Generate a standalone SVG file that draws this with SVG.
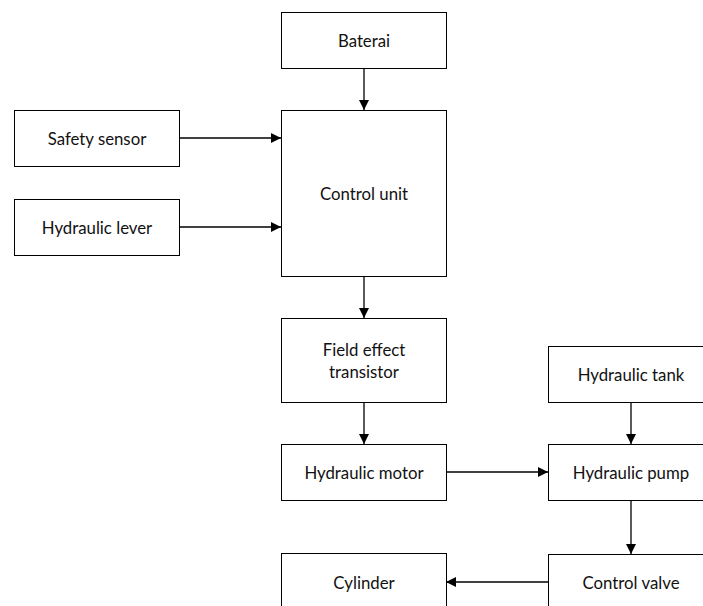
<svg xmlns="http://www.w3.org/2000/svg" width="703" height="606" viewBox="0 0 703 606">
  <defs>
    <marker id="arrow" viewBox="0 0 10 10" refX="10" refY="5" markerWidth="10" markerHeight="10" markerUnits="userSpaceOnUse" orient="auto">
      <path d="M0,0 L10,5 L0,10 Z" fill="#000"/>
    </marker>
    <style>
      .box { fill: #fff; stroke: #000; stroke-width: 1; }
      .label { font-family: Lato, "Liberation Sans", sans-serif; font-size: 16.8px; fill: #111; text-anchor: middle; dominant-baseline: central; }
      .link { stroke: #000; stroke-width: 1.3; fill: none; marker-end: url(#arrow); }
    </style>
  </defs>
  <rect width="703" height="606" fill="#fff"/>

  <g id="connectors">
    <line class="link" x1="364" y1="68" x2="364" y2="110"/>
    <line class="link" x1="180" y1="138" x2="281" y2="138"/>
    <line class="link" x1="180" y1="227" x2="281" y2="227"/>
    <line class="link" x1="364" y1="276" x2="364" y2="318"/>
    <line class="link" x1="364" y1="402" x2="364" y2="444"/>
    <line class="link" x1="446" y1="472" x2="548" y2="472"/>
    <line class="link" x1="631" y1="402" x2="631" y2="444"/>
    <line class="link" x1="631" y1="500" x2="631" y2="554"/>
    <line class="link" x1="548" y1="582" x2="446" y2="582"/>
  </g>

  <g id="baterai">
    <rect class="box" x="281.5" y="12.5" width="165" height="56"/>
    <text class="label" x="364" y="40">Baterai</text>
  </g>
  <g id="safety-sensor">
    <rect class="box" x="14.5" y="110.5" width="165" height="56"/>
    <text class="label" x="97" y="138">Safety sensor</text>
  </g>
  <g id="hydraulic-lever">
    <rect class="box" x="14.5" y="199.5" width="165" height="56"/>
    <text class="label" x="97" y="227">Hydraulic lever</text>
  </g>
  <g id="control-unit">
    <rect class="box" x="281.5" y="110.5" width="165" height="166"/>
    <text class="label" x="364" y="193">Control unit</text>
  </g>
  <g id="field-effect-transistor">
    <rect class="box" x="281.5" y="318.5" width="165" height="84"/>
    <text class="label" x="364" y="349">Field effect</text>
    <text class="label" x="364" y="371">transistor</text>
  </g>
  <g id="hydraulic-motor">
    <rect class="box" x="281.5" y="444.5" width="165" height="56"/>
    <text class="label" x="364" y="472">Hydraulic motor</text>
  </g>
  <g id="hydraulic-tank">
    <rect class="box" x="548.5" y="346.5" width="166" height="56"/>
    <text class="label" x="631" y="374">Hydraulic tank</text>
  </g>
  <g id="hydraulic-pump">
    <rect class="box" x="548.5" y="444.5" width="166" height="56"/>
    <text class="label" x="631" y="472">Hydraulic pump</text>
  </g>
  <g id="control-valve">
    <rect class="box" x="548.5" y="554.5" width="166" height="70"/>
    <text class="label" x="631" y="582">Control valve</text>
  </g>
  <g id="cylinder">
    <rect class="box" x="281.5" y="553.5" width="165" height="70"/>
    <text class="label" x="364" y="582">Cylinder</text>
  </g>
</svg>
